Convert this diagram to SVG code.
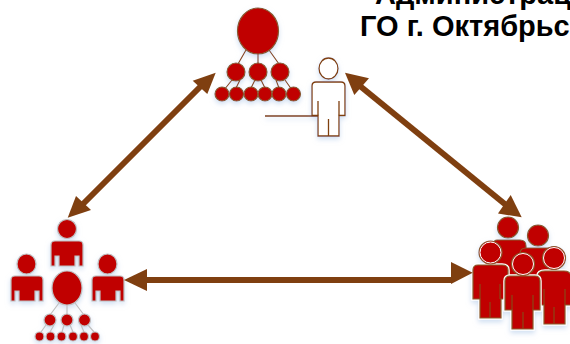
<svg xmlns="http://www.w3.org/2000/svg" width="570" height="344" viewBox="0 0 570 344">
<style>
.t{font-family:"Liberation Sans",Arial,sans-serif;font-weight:700;font-size:29px;fill:#000}
.r{fill:#c00000;stroke:#8a5a2b;stroke-width:1.2}
.g{fill:#c00000;stroke:#c0c0c0;stroke-width:1.2}
.w{fill:none;stroke:#fff;stroke-width:3.500}
.l{fill:none;stroke:#8a4a1c;stroke-width:1.2}
.lg{fill:none;stroke:#c0c0c0;stroke-width:1.2}
.o{fill:#fff;stroke:#7f3f10;stroke-width:1.3}
.c{stroke:#7f3f10;stroke-width:6;fill:none}
.h{fill:#7f3f10}
</style>
<defs>
<filter id="s" x="-20%" y="-20%" width="140%" height="150%"><feDropShadow dx="0" dy="2.500" stdDeviation="2.500" flood-color="#a9c4e6" flood-opacity=".55"/></filter>
<path id="b1" d="M478 265H502Q508 265 508 270V299H501V318H480V299H473V270Q473 265 478 265Z"/>
<path id="b2" d="M545 271H564Q570 271 571 276V305H565V324H544V305H538V276Q538 271 545 271Z"/>
<path id="b3" d="M510 276H535Q540 276 540 281V310H533V329H512V310H505V281Q505 276 510 276Z"/>
</defs>
<rect width="570" height="344" fill="#fff"/>
<g id="title">
<text class="t" x="375" y="3.500">Администрация</text>
<text class="t" x="360" y="35.500">ГО г. Октябрьский</text>
</g>
<g id="admin-org" filter="url(#s)">
<path class="l" d="M246 50L238 64M258 50V64M269 50L279 64M232 80L224 90M240 80L236 88M255 80L251 88M261 80L265 88M276 80L279 88M285 80L292 90"/>
<ellipse class="r" cx="258" cy="31" rx="20.500" ry="23"/>
<circle class="r" cx="236" cy="72" r="9"/><circle class="r" cx="258" cy="72" r="9"/><circle class="r" cx="280" cy="72" r="9"/>
<circle class="r" cx="222" cy="94" r="7"/><circle class="r" cx="236.500" cy="94" r="7"/><circle class="r" cx="251" cy="94" r="7"/><circle class="r" cx="265" cy="94" r="7"/><circle class="r" cx="279" cy="94" r="7"/><circle class="r" cx="293.500" cy="94" r="7"/>
</g>
<g id="admin-person" filter="url(#s)">
<ellipse class="o" cx="328.500" cy="68.500" rx="9.500" ry="10.500"/>
<path class="o" d="M316 82H341Q345 82 345 86V115.500H339V136H318V115.500H312V86Q312 82 316 82Z"/>
<path class="o" d="M318 101V115.500M339 101V115.500M328.500 119V136M265 116H318"/>
</g>
<g id="left-group" filter="url(#s)">
<path class="lg" d="M59 303L50 315M67 305V315M75 303L84 315M46 325L41 332M54 325L50 332M64 325L62 332M70 325L73 332M81 325L84 332M88 325L94 332"/>
<circle class="g" cx="67" cy="229" r="9.500"/>
<path class="g" d="M55 241H79Q83 241 83 245V266H79V256H75V266H59V256H55V266H51V245Q51 241 55 241Z"/>
<ellipse class="g" cx="26.500" cy="264" rx="9.500" ry="10"/>
<path class="g" d="M15 276H39Q43 276 43 280V301H39V291H35V301H19V291H15V301H11V280Q11 276 15 276Z"/>
<ellipse class="g" cx="107.500" cy="264" rx="9.500" ry="10"/>
<path class="g" d="M96 276H120Q124 276 124 280V301H120V291H116V301H100V291H96V301H92V280Q92 276 96 276Z"/>
<ellipse class="g" cx="67" cy="288" rx="15" ry="17"/>
<circle class="g" cx="50" cy="320" r="6"/><circle class="g" cx="67" cy="320" r="6"/><circle class="g" cx="84.500" cy="320" r="6"/>
<circle class="g" cx="39.500" cy="336.500" r="4.500"/><circle class="g" cx="50.500" cy="336.500" r="4.500"/><circle class="g" cx="61.500" cy="336.500" r="4.500"/><circle class="g" cx="73" cy="336.500" r="4.500"/><circle class="g" cx="84" cy="336.500" r="4.500"/><circle class="g" cx="95" cy="336.500" r="4.500"/>
</g>
<g id="right-group" filter="url(#s)">
<circle class="r" cx="508" cy="227.500" r="10.500"/>
<path class="r" d="M497 240H520Q526 240 526 246V275H494V243Q494 240 497 240Z"/>
<circle class="r" cx="538" cy="235.500" r="10.500"/>
<path class="r" d="M526 248H548Q555 248 555 254V280H520V254Q520 248 526 248Z"/>
<use href="#b1" class="w"/><use href="#b1" class="r"/>
<circle class="r" cx="490.500" cy="252.500" r="11.500"/><circle cx="490.500" cy="252.500" r="10.500" fill="#c00000" stroke="#fff" stroke-width="1"/>
<path class="l" d="M480 284V299M500 284V299M490 302V318"/>
<use href="#b2" class="w"/><use href="#b2" class="r"/>
<circle class="r" cx="554" cy="258" r="11.500"/><circle cx="554" cy="258" r="10.500" fill="#c00000" stroke="#fff" stroke-width="1"/>
<path class="l" d="M544 289V305M565 289V305M554 307V324"/>
<use href="#b3" class="w"/><use href="#b3" class="r"/>
<circle class="r" cx="523" cy="264" r="11.500"/><circle cx="523" cy="264" r="10.500" fill="#c00000" stroke="#fff" stroke-width="1"/>
<path class="l" d="M512 295V310M533 295V310M523 312V329"/>
</g>
<g id="connectors">
<path class="c" d="M204 83L81 206"/>
<path class="c" d="M360 86L506 205"/>
<path class="c" d="M145 280H453"/>
<path class="h" d="M215.700 72.700L192.700 80.700L207.300 94Z"/>
<path class="h" d="M67.700 217.700L76 196L91 210Z"/>
<path class="h" d="M345 72.700L369 78.300L354.300 95Z"/>
<path class="h" d="M521.700 217.300L510.700 195L498 213.500Z"/>
<path class="h" d="M124 280L147 269V291Z"/>
<path class="h" d="M472.700 272.700L451 262V284Z"/>
</g>
</svg>
